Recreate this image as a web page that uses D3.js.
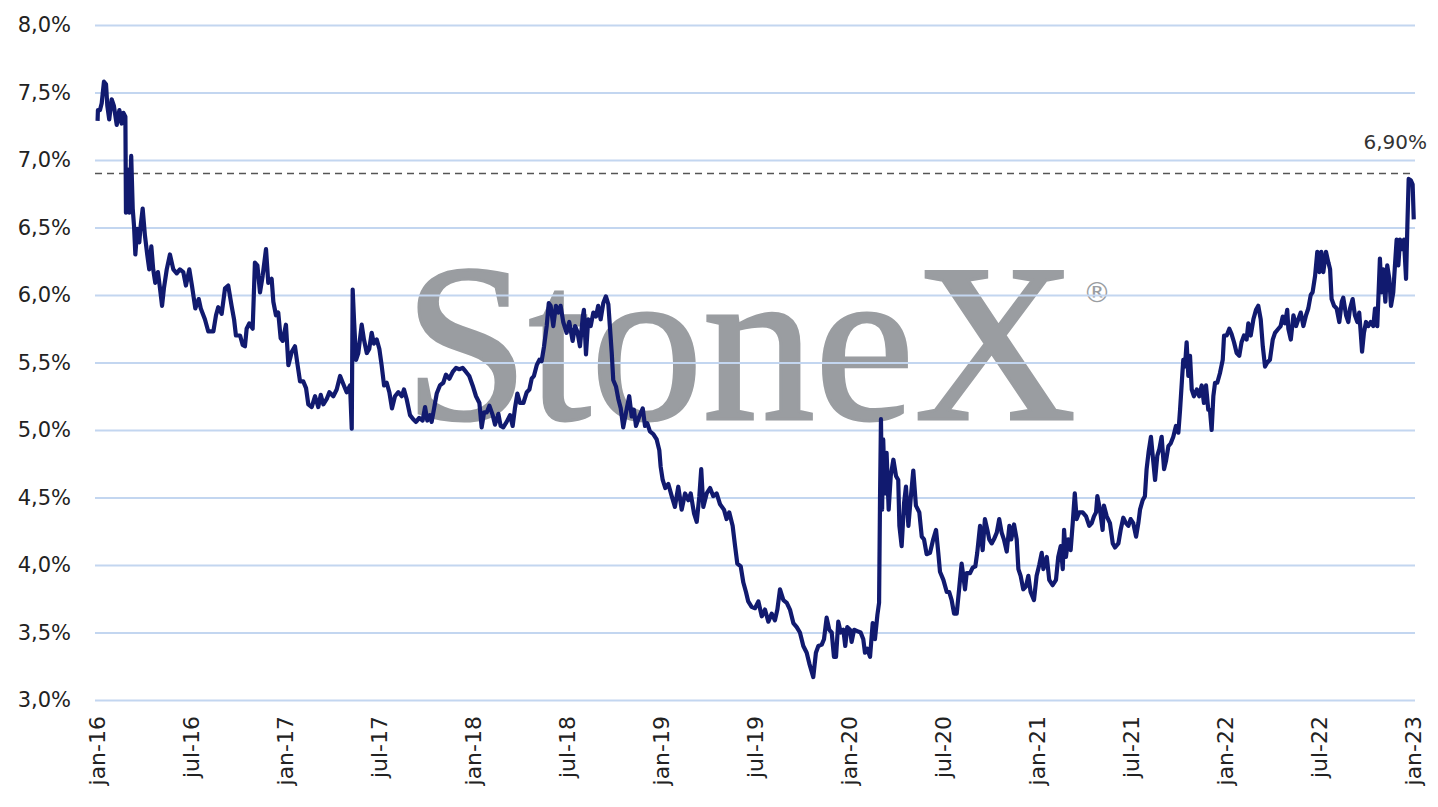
<!DOCTYPE html>
<html><head><meta charset="utf-8">
<script src="https://cdn.jsdelivr.net/npm/d3@7"></script>
<style>
html,body{margin:0;padding:0;background:#fff;}
svg{display:block;}
</style></head>
<body>
<svg id="chart" width="1438" height="807"></svg>
<script>
// ---- DATA ----
const START_YEAR = 2016;
// time in years since January 2016
const t = [0.003,0.005,0.016,0.025,0.037,0.048,0.055,0.065,0.078,0.090,0.105,0.119,0.131,0.140,0.151,0.154,0.161,0.172,0.182,0.190,0.197,0.204,0.214,0.225,0.232,0.243,0.255,0.268,0.278,0.289,0.299,0.310,0.324,0.335,0.346,0.356,0.371,0.388,0.406,0.424,0.441,0.459,0.473,0.491,0.505,0.523,0.541,0.552,0.574,0.592,0.619,0.633,0.645,0.663,0.681,0.698,0.716,0.729,0.739,0.761,0.775,0.787,0.796,0.810,0.828,0.840,0.853,0.867,0.881,0.899,0.911,0.929,0.938,0.952,0.964,0.977,0.988,
1.005,1.018,1.036,1.053,1.065,1.080,1.097,1.112,1.124,1.142,1.160,1.177,1.190,1.204,1.222,1.236,1.257,1.275,1.293,1.310,1.328,1.346,1.355,1.360,1.367,1.378,1.390,1.408,1.420,1.435,1.448,1.461,1.473,1.488,1.502,1.514,1.527,1.541,1.555,1.569,1.585,1.603,1.621,1.633,1.647,1.665,1.682,1.697,1.714,1.732,1.745,1.757,1.771,1.780,1.793,1.807,1.824,1.842,1.856,1.874,1.892,1.910,1.927,1.945,1.963,1.980,1.998,
2.016,2.034,2.046,2.059,2.073,2.087,2.105,2.117,2.135,2.147,2.161,2.179,2.197,2.211,2.223,2.236,2.250,2.268,2.286,2.300,2.312,2.324,2.339,2.353,2.365,2.378,2.392,2.403,2.413,2.427,2.441,2.454,2.466,2.480,2.498,2.512,2.530,2.543,2.555,2.569,2.584,2.590,2.601,2.613,2.626,2.640,2.654,2.666,2.679,2.693,2.707,2.720,2.729,2.738,2.746,2.761,2.773,2.786,2.799,2.814,2.831,2.844,2.856,2.867,2.884,2.903,2.915,2.927,2.941,2.959,2.977,2.991,2.998,
3.009,3.023,3.039,3.057,3.074,3.092,3.110,3.128,3.145,3.158,3.176,3.190,3.204,3.214,3.225,3.243,3.261,3.278,3.296,3.314,3.335,3.349,3.363,3.381,3.394,3.406,3.424,3.438,3.452,3.464,3.482,3.500,3.518,3.536,3.553,3.571,3.589,3.606,3.619,3.633,3.651,3.669,3.686,3.704,3.722,3.739,3.757,3.775,3.789,3.810,3.824,3.837,3.855,3.867,3.881,3.895,3.908,3.920,3.931,3.943,3.956,3.970,3.980,3.991,
4.005,4.014,4.027,4.044,4.062,4.076,4.085,4.097,4.112,4.126,4.138,4.151,4.160,4.165,4.170,4.176,4.182,4.191,4.200,4.211,4.222,4.236,4.250,4.262,4.268,4.280,4.293,4.303,4.316,4.328,4.342,4.356,4.374,4.387,4.399,4.413,4.431,4.448,4.463,4.475,4.484,4.502,4.520,4.533,4.546,4.559,4.573,4.587,4.599,4.608,4.617,4.626,4.644,4.658,4.672,4.682,4.697,4.711,4.723,4.736,4.746,4.759,4.771,4.786,4.799,4.812,4.824,4.839,4.853,4.863,4.878,4.892,4.901,4.913,4.927,4.941,4.954,4.966,4.984,4.998,
5.012,5.025,5.034,5.052,5.065,5.083,5.101,5.113,5.126,5.137,5.144,5.154,5.166,5.179,5.190,5.201,5.211,5.225,5.243,5.261,5.278,5.291,5.303,5.314,5.321,5.335,5.349,5.356,5.371,5.388,5.403,5.415,5.433,5.445,5.459,5.473,5.486,5.498,5.512,5.527,5.539,5.548,5.562,5.574,5.583,5.594,5.606,5.619,5.628,5.640,5.651,5.663,5.676,5.686,5.699,5.711,5.725,5.739,5.752,5.761,5.771,5.778,5.787,5.796,5.805,5.814,5.823,5.835,5.850,5.863,5.876,5.888,5.899,5.911,5.920,5.929,5.938,5.947,5.959,5.973,5.988,5.995,
6.009,6.023,6.035,6.048,6.062,6.076,6.088,6.101,6.115,6.124,6.137,6.151,6.165,6.177,6.190,6.201,6.213,6.225,6.239,6.254,6.266,6.284,6.296,6.307,6.319,6.331,6.337,6.350,6.364,6.378,6.390,6.403,6.417,6.431,6.443,6.456,6.466,6.479,6.491,6.502,6.512,6.523,6.537,6.550,6.559,6.567,6.580,6.594,6.608,6.621,6.629,6.644,6.656,6.665,6.679,6.691,6.704,6.714,6.722,6.729,6.739,6.750,6.762,6.775,6.789,6.798,6.810,6.824,6.833,6.842,6.853,6.863,6.874,6.883,6.895,6.904,6.913,6.922,6.931,6.941,6.952,6.963,6.970,6.977,6.988,6.998,7.004];
// yield (%)
const yieldPct = [7.29,7.37,7.37,7.42,7.58,7.56,7.40,7.30,7.45,7.40,7.26,7.37,7.27,7.35,7.32,6.61,6.93,6.61,7.03,6.64,6.51,6.30,6.49,6.39,6.51,6.64,6.44,6.29,6.19,6.36,6.19,6.09,6.17,6.05,5.92,6.05,6.19,6.30,6.19,6.16,6.19,6.17,6.07,6.19,6.07,5.90,5.97,5.90,5.82,5.73,5.73,5.85,5.91,5.86,6.05,6.07,5.92,5.82,5.70,5.70,5.63,5.62,5.75,5.79,5.75,6.24,6.22,6.02,6.14,6.34,6.09,6.12,5.95,5.85,5.87,5.68,5.66,
5.78,5.48,5.58,5.62,5.50,5.36,5.36,5.31,5.19,5.17,5.25,5.17,5.26,5.19,5.23,5.28,5.25,5.30,5.40,5.34,5.28,5.33,5.01,6.04,5.82,5.52,5.57,5.78,5.67,5.57,5.60,5.72,5.64,5.67,5.60,5.48,5.33,5.35,5.28,5.16,5.25,5.28,5.25,5.30,5.23,5.11,5.08,5.06,5.09,5.07,5.17,5.07,5.11,5.06,5.16,5.27,5.33,5.35,5.41,5.38,5.43,5.46,5.45,5.46,5.43,5.40,5.33,
5.25,5.20,5.02,5.13,5.13,5.18,5.11,5.04,5.12,5.03,5.02,5.06,5.11,5.03,5.16,5.27,5.20,5.20,5.28,5.30,5.38,5.40,5.48,5.52,5.51,5.62,5.77,5.94,5.92,5.77,5.92,5.87,5.92,5.80,5.72,5.80,5.66,5.77,5.73,5.62,5.84,5.89,5.56,5.82,5.77,5.87,5.84,5.92,5.82,5.94,5.99,5.93,5.75,5.57,5.37,5.32,5.23,5.16,5.02,5.13,5.25,5.10,5.15,5.03,5.10,5.16,5.03,5.05,4.99,4.97,4.93,4.85,4.73,
4.63,4.57,4.60,4.51,4.43,4.58,4.41,4.53,4.48,4.53,4.38,4.32,4.51,4.71,4.43,4.53,4.57,4.51,4.53,4.45,4.41,4.34,4.39,4.29,4.14,4.01,3.99,3.87,3.80,3.73,3.69,3.68,3.73,3.62,3.67,3.58,3.64,3.59,3.67,3.82,3.74,3.72,3.67,3.57,3.54,3.50,3.40,3.35,3.27,3.17,3.35,3.40,3.41,3.45,3.61,3.52,3.50,3.32,3.32,3.58,3.50,3.52,3.40,3.54,
3.52,3.43,3.52,3.51,3.50,3.45,3.35,3.38,3.32,3.57,3.45,3.63,3.72,4.49,5.08,4.41,4.93,4.53,4.83,4.41,4.66,4.78,4.66,4.63,4.29,4.14,4.46,4.58,4.29,4.49,4.70,4.44,4.39,4.21,4.19,4.08,4.09,4.19,4.26,4.09,3.95,3.89,3.80,3.80,3.74,3.64,3.64,3.84,4.01,3.92,3.82,3.94,3.94,3.98,3.99,4.09,4.29,4.11,4.34,4.26,4.19,4.16,4.19,4.24,4.34,4.24,4.19,4.10,4.29,4.19,4.30,4.19,3.97,3.92,3.82,3.84,3.92,3.80,3.74,3.92,
4.00,4.09,3.97,4.06,3.89,3.85,3.89,4.06,4.14,3.97,4.26,4.06,4.19,4.11,4.31,4.53,4.34,4.39,4.39,4.36,4.29,4.31,4.36,4.39,4.51,4.41,4.26,4.44,4.36,4.31,4.16,4.13,4.16,4.26,4.35,4.31,4.29,4.34,4.31,4.21,4.31,4.41,4.48,4.51,4.71,4.84,4.95,4.76,4.63,4.81,4.86,4.95,4.71,4.77,4.88,4.90,4.95,5.03,4.98,5.15,5.37,5.52,5.47,5.65,5.40,5.55,5.30,5.25,5.30,5.25,5.33,5.20,5.33,5.15,5.15,5.00,5.25,5.35,5.35,5.42,5.52,5.70,
5.70,5.75,5.71,5.65,5.57,5.55,5.65,5.70,5.67,5.79,5.70,5.82,5.89,5.92,5.82,5.62,5.47,5.50,5.52,5.67,5.72,5.75,5.77,5.84,5.79,5.89,5.75,5.67,5.85,5.77,5.82,5.87,5.77,5.85,5.90,6.00,6.02,6.14,6.32,6.17,6.32,6.17,6.32,6.24,6.19,5.97,5.92,5.90,5.80,5.95,5.98,5.85,5.80,5.90,5.97,5.85,5.80,5.87,5.72,5.58,5.72,5.80,5.77,5.80,5.77,5.90,5.77,6.27,6.02,6.19,5.95,6.22,6.12,5.92,6.02,6.22,6.41,6.22,6.41,6.34,6.41,6.12,6.51,6.86,6.85,6.82,6.56];

const yTicks = [3.0,3.5,4.0,4.5,5.0,5.5,6.0,6.5,7.0,7.5,8.0];
const xTickYears = [0,0.5,1,1.5,2,2.5,3,3.5,4,4.5,5,5.5,6,6.5,7];
const xTickLabels = ["jan-16","jul-16","jan-17","jul-17","jan-18","jul-18","jan-19","jul-19","jan-20","jul-20","jan-21","jul-21","jan-22","jul-22","jan-23"];
const refLevel = 6.90;
const refLabel = "6,90%";
const watermarkText = "StoneX";

// ---- CHART ----
const svg = d3.select("#chart");
const x = d3.scaleLinear().domain([0, 7]).range([97, 1413]);
const y = d3.scaleLinear().domain([3, 8]).range([700, 25]);
const fmt = v => d3.format(".1f")(v).replace(".", ",") + "%";

// watermark
const wm = svg.append("g");
wm.append("text")
  .attr("x", 404).attr("y", 419)
  .attr("font-family", "'Liberation Serif','Times New Roman',serif")
  .attr("font-size", 224)
  .attr("fill", "#9a9da1")
  .attr("stroke", "#9a9da1").attr("stroke-width", 3)
  .text(watermarkText);
wm.append("text")
  .attr("x", 1097).attr("y", 302)
  .attr("text-anchor", "middle")
  .attr("font-family", "'DejaVu Sans',sans-serif")
  .attr("font-size", 28)
  .attr("fill", "#9a9da1")
  .text("\u00AE");

// gridlines
const yAxis = d3.axisLeft(y).tickValues(yTicks).tickFormat(fmt)
  .tickSize(-(1415 - 95)).tickPadding(24);
const gy = svg.append("g").attr("transform", "translate(95,0)").call(yAxis);
gy.select(".domain").remove();
gy.selectAll(".tick line").attr("stroke", "#c3d6f0").attr("stroke-width", 2);
gy.selectAll(".tick text")
  .attr("font-family", "'DejaVu Sans',sans-serif")
  .attr("font-size", 21).attr("fill", "#222");

// x axis labels
const xAxis = d3.axisBottom(x).tickValues(xTickYears)
  .tickFormat((d, i) => xTickLabels[i]).tickSize(0);
const gx = svg.append("g").attr("transform", "translate(0,700)").call(xAxis);
gx.select(".domain").remove();
gx.selectAll(".tick text")
  .attr("font-family", "'DejaVu Sans',sans-serif")
  .attr("font-size", 22).attr("fill", "#222")
  .attr("transform", "rotate(-90)")
  .attr("text-anchor", "end")
  .attr("x", -16).attr("y", 0).attr("dy", "0.35em");

// reference dashed line
svg.append("line")
  .attr("x1", 95).attr("x2", 1415)
  .attr("y1", y(refLevel)).attr("y2", y(refLevel))
  .attr("stroke", "#555").attr("stroke-width", 1.6)
  .attr("stroke-dasharray", "7,5");
svg.append("text")
  .attr("x", 1427).attr("y", y(refLevel) - 25)
  .attr("text-anchor", "end")
  .attr("font-family", "'DejaVu Sans',sans-serif")
  .attr("font-size", 20).attr("fill", "#333")
  .text(refLabel);

// series line
const data = t.map((d, i) => ({t: d, v: yieldPct[i]}));
svg.append("path")
  .datum(data)
  .attr("fill", "none")
  .attr("stroke", "#111a6f")
  .attr("stroke-width", 4.2)
  .attr("stroke-linejoin", "round")
  .attr("d", d3.line().x(d => x(d.t)).y(d => y(d.v)));
</script>
</body></html>
